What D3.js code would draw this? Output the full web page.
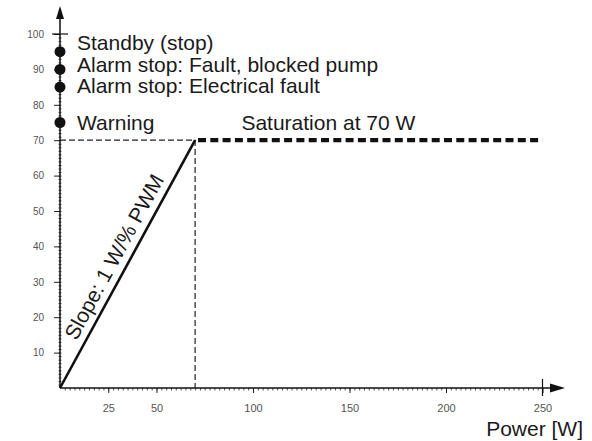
<!DOCTYPE html>
<html>
<head>
<meta charset="utf-8">
<script src="https://cdn.jsdelivr.net/npm/d3@7"></script>
<style>
  body { margin: 0; background: #fff; }
  svg { display: block; font-family: "Liberation Sans", Arial, sans-serif; }
  .lbl { font-size: 21px; fill: #1a1a1a; }
  .tick text { fill: #555; }
</style>
</head>
<body>
<svg id="chart" width="592" height="441"></svg>
<script>
// axis ticks
const xTickValues = [25, 50, 100, 150, 200]
const yTickValues = [10, 20, 30, 40, 50, 60, 70, 80, 90]
const xMax = 250
const yMax = 100

// operating curve: PWM -> power, slope 1 W per % PWM, saturates at 70 W
const rampPwm = [0, 70]
const rampPower = [0, 70]
const saturation = 70
const saturationEnd = 250

// status levels on the PWM axis
const statusValues = [95, 90, 85, 75]
const statusLabels = ["Standby (stop)", "Alarm stop: Fault, blocked pump", "Alarm stop: Electrical fault", "Warning"]

const svg = d3.select("#chart")
const x = d3.scaleLinear().domain([0, xMax]).range([60, 542.5])
const y = d3.scaleLinear().domain([0, yMax]).range([388, 34])

const x0 = x(0), y0 = y(0)

// minor ticks
svg.append("g")
  .attr("transform", `translate(${x0},0)`)
  .call(d3.axisLeft(y).tickValues(d3.range(1, yMax, 1)).tickSize(3).tickFormat(""))
  .call(g => g.select(".domain").remove())
  .call(g => g.selectAll("line").attr("transform", "translate(1.5,0)").attr("stroke", "#555"))

svg.append("g")
  .attr("transform", `translate(0,${y0})`)
  .call(d3.axisBottom(x).tickValues(d3.range(2.5, xMax, 2.5)).tickSize(2.5).tickFormat(""))
  .call(g => g.select(".domain").remove())
  .call(g => g.selectAll("line").attr("stroke", "#555"))

// major ticks + labels
svg.append("g")
  .attr("transform", `translate(${x0},0)`)
  .call(d3.axisLeft(y).tickValues(yTickValues.concat([yMax])).tickSize(6).tickPadding(10))
  .call(g => g.select(".domain").remove())
  .call(g => g.selectAll("text").attr("font-size", 10).attr("font-family", "Liberation Sans, Arial"))
  .call(g => g.selectAll("line").attr("stroke", "#222"))

svg.append("g")
  .attr("transform", `translate(0,${y0})`)
  .call(d3.axisBottom(x).tickValues(xTickValues.concat([xMax])).tickSize(5).tickPadding(11))
  .call(g => g.select(".domain").remove())
  .call(g => g.selectAll("text").attr("font-size", 11).attr("font-family", "Liberation Sans, Arial"))
  .call(g => g.selectAll("line").attr("stroke", "#222"))

// crossing end ticks
svg.append("line").attr("x1", x0 - 8).attr("x2", x0 + 8).attr("y1", y(yMax)).attr("y2", y(yMax))
  .attr("stroke", "#111").attr("stroke-width", 1.2)
svg.append("line").attr("x1", x(xMax)).attr("x2", x(xMax)).attr("y1", y0 - 9).attr("y2", y0 + 8)
  .attr("stroke", "#111").attr("stroke-width", 1.2)

// axis lines with arrows
svg.append("line").attr("x1", x0).attr("x2", x0).attr("y1", y0).attr("y2", 16)
  .attr("stroke", "#111").attr("stroke-width", 1.5)
svg.append("path").attr("d", `M${x0},6L${x0 - 4},19L${x0 + 4},19Z`).attr("fill", "#111")
svg.append("line").attr("x1", x0).attr("x2", 554).attr("y1", y0).attr("y2", y0)
  .attr("stroke", "#111").attr("stroke-width", 1.5)
svg.append("path").attr("d", `M565,${y0}L550,${y0 - 4.5}L550,${y0 + 4.5}Z`).attr("fill", "#111")

// thin dashed guides to saturation point
svg.append("path")
  .attr("d", `M${x0},${y(saturation)}H${x(rampPwm[1])}V${y0}`)
  .attr("fill", "none").attr("stroke", "#222").attr("stroke-width", 1.2)
  .attr("stroke-dasharray", "6,3")

// ramp line
const line = d3.line().x(d => x(d[0])).y(d => y(d[1]))
svg.append("path")
  .datum(rampPwm.map((p, i) => [p, rampPower[i]]))
  .attr("d", line)
  .attr("fill", "none").attr("stroke", "#111").attr("stroke-width", 2.6)

// saturation thick dashed line
svg.append("path")
  .datum([[rampPwm[1] + 1.5, saturation], [saturationEnd, saturation]])
  .attr("d", line)
  .attr("fill", "none").attr("stroke", "#111").attr("stroke-width", 4.2)
  .attr("stroke-dasharray", "8,4.3")

// slope label along the ramp
const ang = Math.atan2(y(rampPower[1]) - y(rampPower[0]), x(rampPwm[1]) - x(rampPwm[0]))
const mx = (x(rampPwm[0]) + x(rampPwm[1])) / 2, my = (y(rampPower[0]) + y(rampPower[1])) / 2
const off = 8
svg.append("text").attr("class", "lbl")
  .attr("transform", `translate(${mx + off * Math.sin(ang)},${my - off * Math.cos(ang)}) rotate(${ang * 180 / Math.PI})`)
  .attr("text-anchor", "middle")
  .text("Slope: 1 W/% PWM")

// status dots + labels
svg.append("g").selectAll("circle").data(statusValues).join("circle")
  .attr("cx", x0).attr("cy", d => y(d)).attr("r", 5.5).attr("fill", "#111")

const labelY = [50, 71.5, 93, y(statusValues[3]) + 7.5]
svg.append("g").selectAll("text").data(statusLabels).join("text")
  .attr("class", "lbl").attr("x", x0 + 17).attr("y", (d, i) => labelY[i]).text(d => d)

svg.append("text").attr("class", "lbl").attr("x", x(94)).attr("y", y(saturation) - 10)
  .text("Saturation at 70 W")

svg.append("text").attr("class", "lbl").attr("x", 583).attr("y", 436)
  .attr("text-anchor", "end").text("Power [W]")
</script>
</body>
</html>
